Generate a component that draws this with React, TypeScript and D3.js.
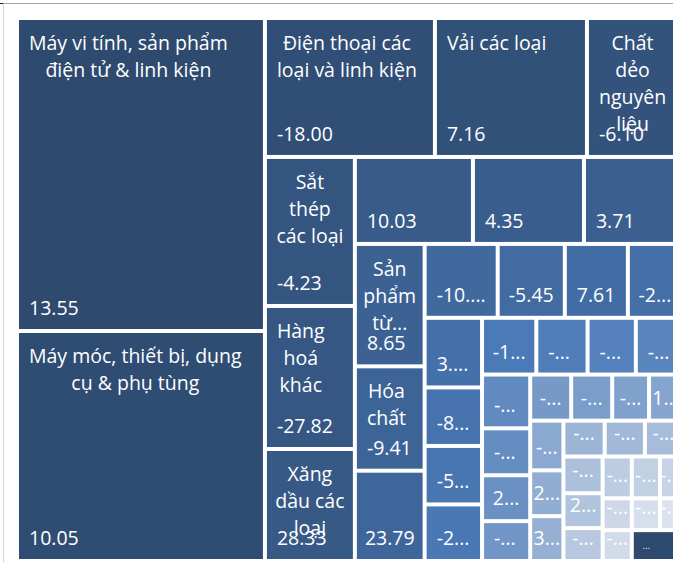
import React from "react";
import * as d3 from "d3";

const WIDTH = 673;
const HEIGHT = 562;

// Import groups, listed in tile order (largest first)
const categories: string[] = [
  "Máy vi tính, sản phẩm điện tử & linh kiện",
  "Máy móc, thiết bị, dụng cụ & phụ tùng",
  "Điện thoại các loại và linh kiện",
  "Vải các loại",
  "Chất dẻo nguyên liệu",
  "Sắt thép các loại",
  "Hàng hoá khác",
  "Xăng dầu các loại",
  "Kim loại thường khác",
  "Nguyên phụ liệu dệt, may, da, giày",
  "Than các loại",
  "Sản phẩm từ chất dẻo",
  "Hóa chất",
  "Ô tô nguyên chiếc các loại",
  "Sản phẩm hóa chất",
  "Linh kiện, phụ tùng ô tô",
  "Thức ăn gia súc & nguyên liệu",
  "Khí đốt hóa lỏng",
  "Quặng và khoáng sản khác",
  "Sản phẩm từ sắt thép",
  "Bông các loại",
  "Gỗ và sản phẩm gỗ",
  "Dầu thô",
  "Xơ, sợi dệt các loại",
  "Hàng thủy sản",
  "Dược phẩm",
  "Hàng rau quả",
  "Ngô",
  "Phân bón các loại",
  "Giấy các loại",
  "Sản phẩm từ kim loại thường khác",
  "Đậu tương",
  "Lúa mì",
  "Cao su",
  "Dây điện và dây cáp điện",
  "Nguyên phụ liệu dược phẩm",
  "Chế phẩm thực phẩm khác",
  "Hàng điện gia dụng và linh kiện",
  "Sữa và sản phẩm sữa",
  "Thuốc trừ sâu và nguyên liệu",
  "Sản phẩm từ giấy",
  "Nguyên phụ liệu thuốc lá",
  "Dầu mỡ động thực vật",
  "Sản phẩm khác từ dầu mỏ",
  "Sản phẩm từ cao su",
  "Phương tiện vận tải khác & phụ tùng",
  "Xe máy và linh kiện, phụ tùng",
  "Đá quý, kim loại quý và sản phẩm",
  "Bánh kẹo & sản phẩm từ ngũ cốc",
  "Clanhke và xi măng",
  "Mặt hàng khác",
];

// Import value of each group (tile size)
const importValues: number[] = [
  776.2, 570.4, 236.3, 211.3, 132.1, 134.1, 128.7, 100.8, 102.7, 96.6,
  85.3, 85.4, 72.8, 63.0, 54.0, 49.6, 46.6, 40.0, 40.0, 33.6,
  33.6, 32.5, 30.8, 29.1, 27.4, 26.2, 25.9, 22.6, 22.1, 19.2,
  18.9, 18.9, 17.0, 15.2, 16.5, 15.2, 14.9, 14.8, 14.4, 13.3,
  14.4, 13.7, 12.9, 12.2, 11.8, 9.2, 9.3, 9.0, 9.0, 7.0,
  15.5,
];

// Year-on-year change, % (label of each tile)
const growthRates: (number | null)[] = [
  13.55, 10.05, -18.0, 7.16, -6.1, -4.23, -27.82, 28.33, 10.03, 4.35,
  3.71, 8.65, -9.41, 23.79, -10.46, -5.45, 7.61, -2.87, 3.28, -8.14,
  -5.62, -2.35, -1.92, -6.78, -12.4, -3.55, -4.81, -15.26, 2.64, -7.93,
  -9.17, -11.08, -20.45, 1.87, -3.06, 2.19, 3.42, -6.25, -8.63, -13.71,
  -4.38, 2.95, -16.34, -5.27, -2.48, -31.6, -9.85, -7.12, -3.94, -18.2,
  null,
];

// Number of tiles in each successive strip of the layout
const STRIP_SIZES = [2, 3, 3, 3, 3, 4, 4, 4, 4, 4, 3, 3, 3, 3, 2, 2, 1];

const FONT = "'Open Sans', 'Noto Sans', sans-serif";
const FONT_SIZE = 19.5;
const LINE_H = 27;

const plot = { left: 19, top: 20, width: 661, height: 539 };

let ctx: CanvasRenderingContext2D | null = null;
function textWidth(s: string): number {
  if (!ctx) ctx = document.createElement("canvas").getContext("2d");
  ctx!.font = `${FONT_SIZE}px ${FONT}`;
  return ctx!.measureText(s).width;
}

function wrapWords(text: string, maxW: number): string[] {
  const words = text.split(/\s+/);
  const lines: string[] = [];
  let cur = "";
  for (const w of words) {
    const t = cur ? `${cur} ${w}` : w;
    if (cur && textWidth(t) > maxW) {
      lines.push(cur);
      cur = w;
    } else cur = t;
  }
  if (cur) lines.push(cur);
  return lines;
}

function fitValue(s: string, w: number): string {
  const room = w - 16;
  if (textWidth(s) <= room) return s;
  for (let k = s.length - 1; k >= 1; k--) {
    const t = s.slice(0, k) + "...";
    if (textWidth(t) <= room || k === 1) return t;
  }
  return "...";
}

// Strip tiling: each strip runs along the shorter side of the space that is left,
// as rows across the top or columns down the left.
function stripTile(parent: any, x0: number, y0: number, x1: number, y1: number) {
  const nodes = parent.children;
  let remaining = parent.value;
  let i0 = 0;
  for (const n of STRIP_SIZES) {
    if (i0 >= nodes.length) break;
    const row = nodes.slice(i0, i0 + n);
    const sum = d3.sum(row, (c: any) => c.value);
    const strip = { children: row, value: sum } as any;
    const dx = x1 - x0;
    const dy = y1 - y0;
    if (dx < dy) {
      const yb = y0 + (dy * sum) / remaining;
      d3.treemapDice(strip, x0, y0, x1, yb);
      y0 = yb;
    } else {
      const xb = x0 + (dx * sum) / remaining;
      d3.treemapSlice(strip, x0, y0, xb, y1);
      x0 = xb;
    }
    remaining -= sum;
    i0 += n;
  }
}

const color = d3
  .scaleLinear<string>()
  .domain([0, 22, 49])
  .range(["#2e4a6f", "#4a7ab8", "#dde3ee"])
  .interpolate(d3.interpolateRgb)
  .clamp(true);

type Item = { name: string; value: number; growth: number | null; rank: number };

export default function App() {
  const items: Item[] = categories.map((name, i) => ({
    name,
    value: importValues[i],
    growth: growthRates[i],
    rank: i,
  }));

  const root = d3
    .hierarchy<any>({ children: items })
    .sum((d: any) => d.value ?? 0);

  d3.treemap<any>()
    .tile(stripTile as any)
    .size([plot.width, plot.height])
    .paddingInner(4)(root);

  const leaves = root.leaves() as d3.HierarchyRectangularNode<Item>[];

  return (
    <svg
      width={WIDTH}
      height={HEIGHT}
      style={{ position: "absolute", left: 0, top: 0, background: "#fff" }}
      fontFamily={FONT}
      fontSize={FONT_SIZE}
    >
      <rect width={WIDTH} height={HEIGHT} fill="#fff" />
      {/* chart frame */}
      <line x1={3.5} y1={3.5} x2={3.5} y2={HEIGHT} stroke="#d4d4d4" />
      <line x1={0} y1={3.5} x2={WIDTH} y2={3.5} stroke="#a6a6a6" />
      <line x1={0} y1={3.5} x2={3} y2={3.5} stroke="#222" />
      <g transform={`translate(${plot.left},${plot.top})`}>
        {leaves.map((leaf, i) => {
          const d = leaf.data;
          const w = leaf.x1 - leaf.x0;
          const h = leaf.y1 - leaf.y0;
          const fill = d.growth === null ? color(0) : color(d.rank);

          // category name, wrapped inside the tile
          let nameEl: React.ReactNode = null;
          if (h >= 95) {
            let lines = wrapWords(d.name, w - 14);
            const maxLines = Math.floor((h - 20) / LINE_H);
            if (lines.length > maxLines) {
              lines = lines.slice(0, maxLines);
              lines[maxLines - 1] += "...";
            }
            const blockW = Math.max(...lines.map(textWidth));
            const bx = w - blockW >= 20 ? leaf.x0 + 10 : leaf.x0 + (w - blockW) / 2;
            nameEl = (
              <text textAnchor="middle" fill="#fff">
                {lines.map((ln, j) => (
                  <tspan key={j} x={bx + blockW / 2} y={leaf.y0 + 30 + j * LINE_H}>
                    {ln}
                  </tspan>
                ))}
              </text>
            );
          }

          // growth label at the bottom of the tile
          let valueEl: React.ReactNode = null;
          if (d.growth === null) {
            valueEl = (
              <text x={leaf.x0 + 9} y={leaf.y1 - 10} fill="#fff" fontSize={9}>
                ...
              </text>
            );
          } else {
            const label = fitValue(d.growth.toFixed(2), w);
            const tw = textWidth(label);
            const tx = w - tw >= 20 ? leaf.x0 + 10 : leaf.x0 + (w - tw) / 2;
            valueEl = (
              <text x={tx} y={leaf.y1 - 14} fill="#fff">
                {label}
              </text>
            );
          }

          return (
            <g key={i}>
              <rect x={leaf.x0} y={leaf.y0} width={w} height={h} fill={fill} />
              {nameEl}
              {valueEl}
            </g>
          );
        })}
      </g>
    </svg>
  );
}
